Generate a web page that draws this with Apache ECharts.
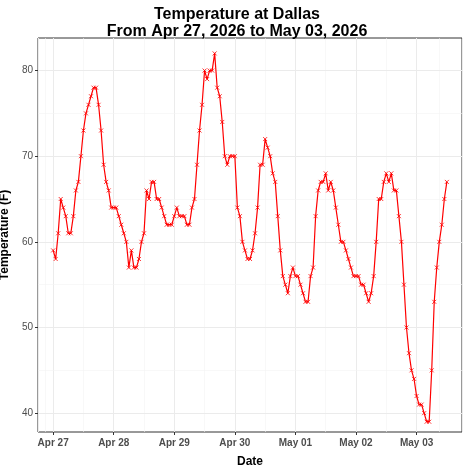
<!DOCTYPE html>
<html><head><meta charset="utf-8">
<script src="https://cdn.jsdelivr.net/npm/echarts@6/dist/echarts.min.js"></script>
<style>html,body{margin:0;padding:0;background:#fff}#c{width:474px;height:474px}</style>
</head><body><div id="c"></div>
<script>
// hourly temperatures (F), starting Apr 27 2026 00:00
var apr27 = [59,58,61,65,64,63,61,61,63,66,67,70,73,75,76,77,78,78,76,73,69,67,66,64];
var apr28 = [64,64,63,62,61,60,57,59,57,57,58,60,61,66,65,67,67,65,65,64,63,62,62,62];
var apr29 = [63,64,63,63,63,62,62,64,65,69,73,76,80,79,80,80,82,78,77,74,70,69,70,70];
var apr30 = [70,64,63,60,59,58,58,59,61,64,69,69,72,71,70,68,67,63,59,56,55,54,56,57];
var may01 = [56,56,55,54,53,53,56,57,63,66,67,67,68,66,67,66,64,62,60,60,59,58,57,56];
var may02 = [56,56,55,55,54,53,54,56,60,65,65,67,68,67,68,66,66,63,60,55,50,47,45,44];
var may03 = [42,41,41,40,39,39,45,53,57,60,62,65,67];
var temps = [].concat(apr27, apr28, apr29, apr30, may01, may02, may03);
var yTicks = [40, 50, 60, 70, 80];
var yMinor = [45, 55, 65, 75];
var months = ['Jan','Feb','Mar','Apr','May','Jun','Jul','Aug','Sep','Oct','Nov','Dec'];

var H = 3600 * 1000;
var start = new Date(2026, 3, 27).getTime();
var data = temps.map(function (t, i) { return [start + i * H, t]; });

var chart = echarts.init(document.getElementById('c'));
var gridLine = {show: true, lineStyle: {color: '#ebebeb', width: 1}};
var minorLine = {show: true, lineStyle: {color: '#f3f3f3', width: 0.6}};
var yLines = yMinor.map(function (v) { return {yAxis: v, lineStyle: {color: '#f3f3f3', width: 0.6, type: 'solid'}}; })
    .concat(yTicks.map(function (v) { return {yAxis: v, lineStyle: {color: '#ebebeb', width: 1, type: 'solid'}}; }));
chart.setOption({
    animation: false,
    title: {
        text: 'Temperature at Dallas\nFrom Apr 27, 2026 to May 03, 2026',
        left: 'center', top: 1,
        textStyle: {fontFamily: 'Liberation Sans', fontWeight: 'bold', fontSize: 16, color: '#000', lineHeight: 17}
    },
    grid: {left: 38, right: 12, top: 38, bottom: 42, outerBoundsMode: 'none', show: true, borderColor: '#333', borderWidth: 1},
    xAxis: {
        type: 'time',
        min: start - 6 * H, max: start + 162 * H,
        interval: 24 * H,
        name: 'Date', nameLocation: 'middle', nameGap: 24,
        nameTextStyle: {fontFamily: 'Liberation Sans', fontWeight: 'bold', fontSize: 12, color: '#000'},
        axisLine: {show: false},
        axisTick: {show: true, length: 3, lineStyle: {color: '#333'}},
        axisLabel: {
            fontFamily: 'Liberation Sans', fontSize: 10, fontWeight: 'bold', color: '#4d4d4d', margin: 6,
            formatter: function (v) { var d = new Date(v); return months[d.getMonth()] + ' ' + String(d.getDate()).padStart(2, '0'); }
        },
        splitLine: gridLine,
        minorTick: {show: false, splitNumber: 2},
        minorSplitLine: minorLine
    },
    yAxis: {
        type: 'value', min: 37.8, max: 83.8,
        name: 'Temperature (F)', nameLocation: 'middle', nameGap: 25,
        nameTextStyle: {fontFamily: 'Liberation Sans', fontWeight: 'bold', fontSize: 12, color: '#000'},
        axisLine: {show: false},
        axisTick: {show: true, length: 3, customValues: yTicks, lineStyle: {color: '#333'}},
        axisLabel: {fontFamily: 'Liberation Sans', fontSize: 10, color: '#4d4d4d', margin: 5, customValues: yTicks},
        splitLine: {show: false}
    },
    series: [{
        type: 'line', data: data, z: 3,
        symbol: 'path://M0,0L10,10M10,0L0,10', symbolSize: 4,
        itemStyle: {color: 'transparent', borderColor: '#ff0000', borderWidth: 0.8},
        lineStyle: {color: '#ff0000', width: 1.2},
        markLine: {silent: true, symbol: 'none', label: {show: false}, z: 1, data: yLines}
    }]
});
</script></body></html>
